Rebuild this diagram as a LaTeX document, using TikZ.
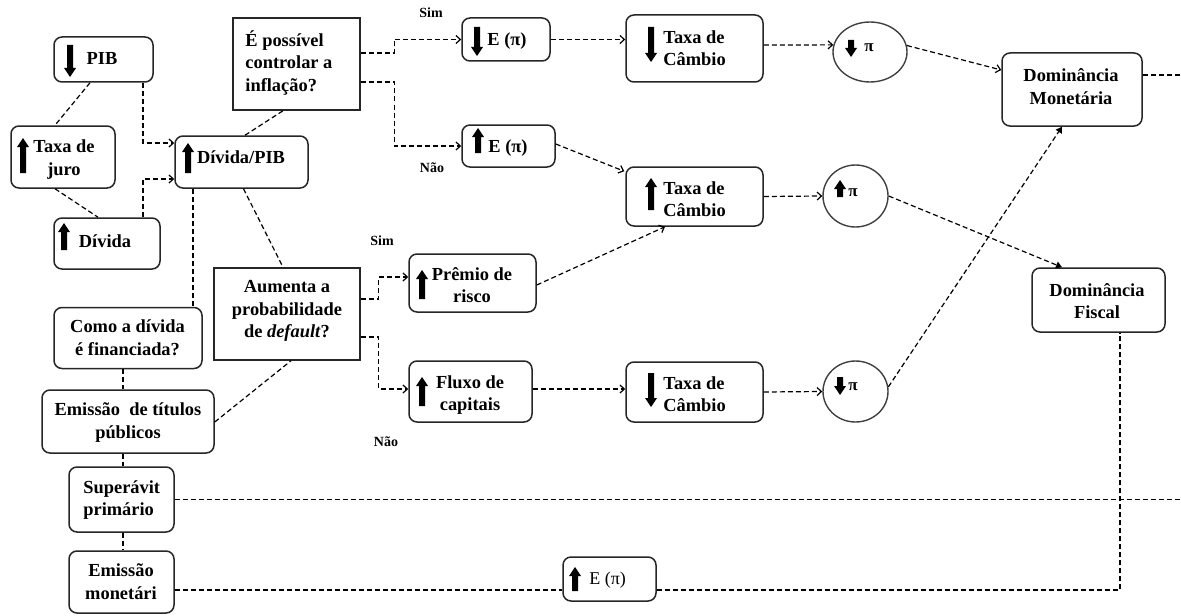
\documentclass[tikz,border=0pt]{standalone}
\usepackage{fontspec}
\setmainfont{Liberation Serif}
\usetikzlibrary{shapes.geometric,arrows.meta,calc}
\newcommand{\upblk}[3]{\fill (#1-3,#3) -- (#1-3,#2+9) -- (#1-6,#2+9) -- (#1,#2) -- (#1+6,#2+9) -- (#1+3,#2+9) -- (#1+3,#3) -- cycle;}
\newcommand{\dnblk}[3]{\fill (#1-3,#2) -- (#1-3,#3-9) -- (#1-6,#3-9) -- (#1,#3) -- (#1+6,#3-9) -- (#1+3,#3-9) -- (#1+3,#2) -- cycle;}
\tikzset{
  bx/.style={draw=black!85, line width=0.75pt, rounded corners=4pt, inner sep=0pt},
  sq/.style={draw=black!85, line width=0.75pt, inner sep=0pt},
  el/.style={draw=black!75, line width=0.7pt, ellipse, inner sep=0pt},
  tx/.style={font=\fontsize{9.2}{11.3}\selectfont\bfseries, inner sep=0pt, align=center, anchor=north, execute at begin node=\strut},
  txl/.style={tx, align=left, anchor=north west},
  lab/.style={font=\fontsize{7}{8}\selectfont\bfseries, inner sep=0pt, anchor=base},
  pil/.style={font=\fontsize{8.5}{9}\selectfont\bfseries, inner sep=0pt, anchor=base west},
  dsh/.style={line width=0.6pt, dash pattern=on 2.5pt off 1.5pt},
  arr/.style={dsh, -{Straight Barb[length=2.2pt,width=4pt]}},
  arrf/.style={dsh, -{Triangle[length=3pt,width=3.5pt]}}
}
\begin{document}
\begin{tikzpicture}[x=0.5pt,y=-0.5pt]
\useasboundingbox[fill=white] (0,0) rectangle (1181,615);
% boxes
\node[bx, minimum width=49.5pt, minimum height=22.5pt] (pib) at (103.5,59.5) {};
\node[bx, minimum width=52pt, minimum height=31pt] (juro) at (63,157) {};
\node[bx, minimum width=53pt, minimum height=25.5pt] (div) at (107,243.5) {};
\node[bx, minimum width=66.5pt, minimum height=26pt] (dpib) at (241.5,162) {};
\node[sq, minimum width=63.5pt, minimum height=46pt] (ctrl) at (296.5,64) {};
\node[sq, minimum width=73pt, minimum height=46pt] (prob) at (287,314) {};
\node[bx, minimum width=74pt, minimum height=30.5pt] (como) at (128,338) {};
\node[bx, minimum width=86pt, minimum height=31.5pt] (tit) at (128,421.5) {};
\node[bx, minimum width=52.5pt, minimum height=32.5pt] (sup) at (121.5,499.5) {};
\node[bx, minimum width=52.5pt, minimum height=31pt] (emon) at (121.5,582) {};
\node[bx, minimum width=44pt, minimum height=21.5pt] (e1) at (506,39.5) {};
\node[bx, minimum width=46.5pt, minimum height=21pt] (e2) at (508.5,146) {};
\node[bx, minimum width=68.5pt, minimum height=33.5pt] (tc1) at (694.5,48.5) {};
\node[bx, minimum width=68.5pt, minimum height=29.5pt] (tc2) at (694.5,196.5) {};
\node[bx, minimum width=63.5pt, minimum height=29pt] (prem) at (472.5,283) {};
\node[bx, minimum width=61.5pt, minimum height=30.5pt] (flux) at (470.5,391.5) {};
\node[bx, minimum width=68.5pt, minimum height=30pt] (tc3) at (694.5,392) {};
\node[el, minimum width=37pt, minimum height=30pt] (c1) at (870,52) {};
\node[el, minimum width=32.5pt, minimum height=31pt] (c2) at (855.5,196) {};
\node[el, minimum width=32.5pt, minimum height=30.5pt] (c3) at (855.5,391.5) {};
\node[bx, minimum width=70pt, minimum height=36.5pt] (dm) at (1072,89.5) {};
\node[bx, minimum width=66.5pt, minimum height=32pt] (df) at (1098.5,300) {};
\node[bx, minimum width=46.5pt, minimum height=22pt] (e3) at (609.5,579) {};
% texts
\node[tx] (tpib) at (102,48) {PIB};
\node[tx] (tjuro) at (64,139.5) {Taxa de\\juro};
\node[tx] (tdiv) at (105,231) {Dívida};
\node[tx] (tdpib) at (241,147.5) {Dívida/PIB};
\node[txl] (tctrl) at (245,30) {É possível\\controlar a\\inflação?};
\node[tx] (tprob) at (287,280) {Aumenta a\\probabilidade\\de \textit{default}?};
\node[tx] (tcomo) at (127.5,319.5) {Como a dívida\\é financiada?};
\node[tx] (ttit) at (128,402.5) {Emissão\ \ de títulos\\públicos};
\node[txl] (tsup) at (83,480) {Superávit\\primário};
\node[tx] (temon) at (121,563.5) {Emissão\\monetári};
\node[txl] (te1) at (487,29) {E (π)};
\node[txl] (te2) at (488,136) {E (π)};
\node[txl] (ttc1) at (663,30) {Taxa de\\Câmbio};
\node[txl] (ttc2) at (663,181) {Taxa de\\Câmbio};
\node[tx] (tprem) at (472,267) {Prêmio de\\risco};
\node[tx] (tflux) at (470,375) {Fluxo de\\capitais};
\node[txl] (ttc3) at (663,376) {Taxa de\\Câmbio};
\node[tx] (tdm) at (1071,68.5) {Dominância\\Monetária};
\node[tx] (tdf) at (1097,283) {Dominância\\Fiscal};
\node[pil] (tc1p) at (864,52) {π};
\node[pil] (tc2p) at (848,196) {π};
\node[pil] (tc3p) at (848,390) {π};
\node[font=\fontsize{9}{11}\selectfont, inner sep=0pt, anchor=base west] (te3) at (589,584) {E (π)};
\node[lab] (sim1) at (431,18) {Sim};
\node[lab] (nao1) at (432,172) {Não};
\node[lab] (sim2) at (382,245) {Sim};
\node[lab] (nao2) at (386,446) {Não};
% block arrows
\dnblk{70}{45}{77}
\upblk{23}{138}{173}
\upblk{64}{223}{250}
\upblk{188}{143}{173}
\dnblk{477}{27}{56}
\upblk{478}{128}{153}
\dnblk{651}{27}{62}
\upblk{651}{178}{210}
\upblk{422}{270}{299}
\upblk{422}{377}{406}
\dnblk{651}{373}{407}
\dnblk{851}{40}{57}
\upblk{840}{180}{197}
\dnblk{840}{377}{395}
\upblk{575}{567}{591}
% free ends
\coordinate (dmend) at (1181,75);
\coordinate (supend) at (1181,499.5);
% connectors
\draw[dsh] ($(pib.south)+(-13.5,0)$) -- ($(juro.north)+(-8,0)$);
\draw[dsh] ($(juro.south)+(-8,0)$) -- ($(div.north)+(-9,0)$);
\draw[arr] ($(pib.south)+(39.5,0)$) |- ($(dpib.west)+(0,-19)$);
\draw[arr] ($(div.north)+(36,0)$) |- ($(dpib.west)+(0,17)$);
\draw[dsh] ($(dpib.north)+(3.5,0)$) -- ($(ctrl.south)+(-13.5,0)$);
\draw[dsh] ($(dpib.south)+(-48.5,0)$) -- ($(como.north)+(65,0)$);
\draw[dsh] ($(dpib.south)+(2,0)$) -- ($(prob.north)+(-4,0)$);
\draw[dsh] ($(como.south)+(-5,0)$) -- ($(tit.north)+(-5,0)$);
\draw[dsh] ($(tit.south)+(-5,0)$) -- ($(sup.north)+(1.5,0)$);
\draw[dsh] ($(sup.south)+(1.5,0)$) -- ($(emon.north)+(1.5,0)$);
\draw[dsh] ($(tit.east)+(0,0.5)$) -- ($(prob.south)+(4,0)$);
\draw[arr] ($(ctrl.east)+(0,-11)$) -- ++(33.5,0) |- (e1.west);
\draw[arr] ($(ctrl.east)+(0,18)$) -- ++(33.5,0) |- (e2.west);
\draw[arr] (e1.east) -- (e1.east -| tc1.west);
\draw[arr] ($(e2.east)+(0,-2)$) -- ($(tc2.north west)+(-1,5)$);
\draw[arr] ($(prem.east)+(0,2)$) -- ($(tc2.south)+(-29.5,0)$);
\draw[arr] ($(prob.east)+(0,-15)$) -- ++(18,0) |- ($(prem.west)+(0,-6)$);
\draw[arr] ($(prob.east)+(0,23)$) -- ++(18,0) |- ($(flux.west)+(0,-2.5)$);
\draw[arr] ($(flux.east)+(0,-2.5)$) -- ($(tc3.west)+(0,-3)$);
\draw[arr] ($(tc1.east)+(0,-3.5)$) -- (c1.169);
\draw[arr] (c1.10) -- ($(dm.west)+(0,-19.5)$);
\draw[arr] (tc2.east) -- (c2.west);
\draw[arrf] (c2.east) -- ($(df.north)+(-36.5,0)$);
\draw[arr] (tc3.east) -- (c3.west);
\draw[arrf] (c3.8) -- ($(dm.south)+(-10,0)$);
\draw[dsh] ($(dm.east)+(0,-14.5)$) -- (dmend);
\draw[dsh] (sup.east) -- (supend);
\draw[dsh] ($(emon.east)+(0,8)$) -- ($(e3.west)+(0,11)$);
\draw[dsh] ($(e3.east)+(0,11)$) -| ($(df.south)+(21.5,0)$);
\end{tikzpicture}
\end{document}
